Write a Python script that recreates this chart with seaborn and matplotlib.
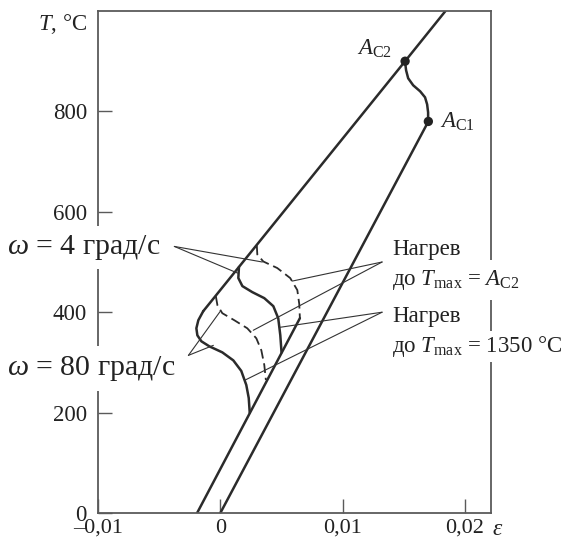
import matplotlib
matplotlib.use("Agg")
import matplotlib.pyplot as plt
import seaborn as sns
import pandas as pd

# ---------------- data (strain eps, temperature T in °C) ----------------
heat_eps = [0.0, 0.0170]
heat_T = [0, 780]

# transformation on heating A_C1 -> A_C2
ac_eps = [0.01698, 0.01698, 0.01690, 0.01673, 0.01633, 0.01576, 0.01535, 0.01518, 0.01510]
ac_T = [780, 798, 814, 828, 840, 852, 866, 882, 898]

# austenite line (cooling)
aus_eps = [0.0184, 0.0151, -0.00140]
aus_T = [1000, 900, 402]

# low-temperature line after transformation
low_eps = [-0.0019, 0.0065]
low_T = [0, 388]

# omega = 80, Tmax = 1350 (solid)
s80_eps = [-0.00140, -0.00180, -0.00196, -0.00188, -0.00155, -0.00090, 0.00016, 0.00106, 0.00171, 0.00212, 0.00232, 0.00240]
s80_T = [402, 384, 368, 354, 342, 332, 320, 304, 283, 255, 229, 200]

# omega = 4, Tmax = 1350 (solid)
s4_eps = [0.00152, 0.00147, 0.00180, 0.00261, 0.00359, 0.00433, 0.00473, 0.00490, 0.00500]
s4_T = [490, 468, 452, 440, 428, 412, 388, 354, 320]

# omega = 4, Tmax = A_C2 (dashed)
d4_eps = [0.00298, 0.00302, 0.00351, 0.00465, 0.00571, 0.00629, 0.00645, 0.00650]
d4_T = [533, 515, 501, 488, 468, 444, 416, 388]

# omega = 80, Tmax = A_C2 (dashed)
d80_eps = [-0.00037, -0.00024, 0.00016, 0.00114, 0.00220, 0.00294, 0.00335, 0.00359, 0.00372]
d80_T = [432, 414, 398, 384, 368, 348, 324, 295, 265]

# critical points
pt_eps = [0.0151, 0.0170]
pt_T = [900, 780]
pt_names = ["$A_{\\mathrm{C2}}$", "$A_{\\mathrm{C1}}$"]

# leader lines: apex -> targets
lead_w4 = ([-0.00376, 0.00343], [531, 500]), ([-0.00376, 0.00140], [531, 478])
lead_w80 = ([-0.00261, -0.00057], [314, 334]), ([-0.00261, 0.0], [314, 402])
lead_ac2 = ([0.01322, 0.00588], [500, 462]), ([0.01322, 0.00269], [500, 364])
lead_1350 = ([0.01322, 0.00490], [400, 370]), ([0.01322, 0.00204], [400, 265])

x_ticks = [-0.01, 0.0, 0.01, 0.02]
x_labels = ["\u20130,01", "0", "0,01", "0,02"]
y_ticks = [0, 200, 400, 600, 800]
y_labels = ["0", "200", "400", "600", "800"]

# ---------------- style ----------------
sns.set_style("ticks")
plt.rcParams["font.family"] = ["Liberation Serif", "DejaVu Serif"]
plt.rcParams["mathtext.fontset"] = "custom"
plt.rcParams["mathtext.rm"] = "Liberation Serif"
plt.rcParams["mathtext.it"] = "Liberation Serif:italic"
plt.rcParams["mathtext.bf"] = "Liberation Serif:bold"
plt.rcParams["lines.scale_dashes"] = False

W, H = 573, 542
fig = plt.figure(figsize=(W / 100, H / 100), dpi=100)
ax = fig.add_axes([98 / W, (H - 513) / H, 393 / W, 502 / H])

dark = "#2b2b2b"
spine_c = "#5a5a5a"
lw_main = 1.8
lw_lead = 0.8


def line(xs, ys, **kw):
    df = pd.DataFrame({"eps": xs, "T": ys})
    sns.lineplot(data=df, x="eps", y="T", sort=False, estimator=None, ax=ax,
                 color=kw.pop("color", dark), **kw)


line(heat_eps, heat_T, linewidth=lw_main)
line(ac_eps, ac_T, linewidth=lw_main)
line(aus_eps, aus_T, linewidth=lw_main)
line(low_eps, low_T, linewidth=lw_main)
line(s80_eps, s80_T, linewidth=lw_main)
line(s4_eps, s4_T, linewidth=lw_main)
line(d4_eps, d4_T, linewidth=1.3, dashes=(7, 3.5))
line(d80_eps, d80_T, linewidth=1.3, dashes=(7, 3.5))

for grp in (lead_w4, lead_w80, lead_ac2, lead_1350):
    for xs, ys in grp:
        line(xs, ys, linewidth=lw_lead, color="#333333")

sns.scatterplot(x=pt_eps, y=pt_T, ax=ax, color="#222222", s=45, edgecolor="none", zorder=5)

ax.set_xlim(-0.01, 0.02212)
ax.set_ylim(0, 1000)
ax.set_xlabel("")
ax.set_ylabel("")
ax.tick_params(direction="in", length=10, width=1.0, color=spine_c,
               labelsize=16.5, labelcolor="#222222")
ax.tick_params(axis="y", pad=8)
ax.tick_params(axis="x", pad=4, labelsize=16)
ax.set_xticks(x_ticks)
ax.set_xticklabels(x_labels)
ax.set_yticks(y_ticks)
ax.set_yticklabels(y_labels)
for sp in ax.spines.values():
    sp.set_visible(True)
    sp.set_color(spine_c)
    sp.set_linewidth(1.3)


def P(x, y):
    return x / W, 1 - y / H


tc = "#222222"
box = dict(facecolor="white", edgecolor="none", pad=2)

fig.text(*P(87, 30), "$T$, °C", ha="right", va="baseline", fontsize=16.5, color=tc)
fig.text(*P(498, 535), r"$\varepsilon$", ha="center", va="baseline", fontsize=17, color=tc)

fig.text(*P(392, 55), pt_names[0], ha="right", va="baseline", fontsize=16.5, color=tc)
fig.text(*P(440, 128), pt_names[1], ha="left", va="baseline", fontsize=16.5, color=tc)

fig.text(*P(7, 254), r"$\omega$ = 4 град/с", ha="left", va="baseline", fontsize=21.5,
         color=tc, bbox=dict(facecolor="white", edgecolor="none", pad=5), zorder=4)
fig.text(*P(7, 375), r"$\omega$ = 80 град/с", ha="left", va="baseline", fontsize=21.5,
         color=tc, bbox=dict(facecolor="white", edgecolor="none", pad=6), zorder=4)

fig.text(*P(392, 255), "Нагрев", ha="left", va="baseline", fontsize=16.5, color=tc,
         bbox=box, zorder=4)
fig.text(*P(392, 285), "до $T_{\\mathrm{max}}$ = $A_{\\mathrm{C2}}$", ha="left", va="baseline",
         fontsize=16.5, color=tc, bbox=dict(facecolor="white", edgecolor="none", pad=6), zorder=4)
fig.text(*P(392, 322), "Нагрев", ha="left", va="baseline", fontsize=16.5, color=tc,
         bbox=dict(facecolor="white", edgecolor="none", pad=6), zorder=4)
fig.text(*P(392, 352), "до $T_{\\mathrm{max}}$ = 1350 °C", ha="left", va="baseline",
         fontsize=16.5, color=tc, bbox=box, zorder=4)

fig.savefig("out.png", dpi=100)
